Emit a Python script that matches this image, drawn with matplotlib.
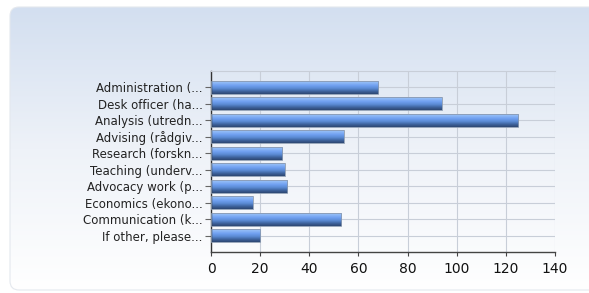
import numpy as np
import matplotlib.pyplot as plt
from matplotlib.patches import FancyBboxPatch
from matplotlib.colors import LinearSegmentedColormap

categories = [
    "Administration (...",
    "Desk officer (ha...",
    "Analysis (utredn...",
    "Advising (rådgiv...",
    "Research (forskn...",
    "Teaching (underv...",
    "Advocacy work (p...",
    "Economics (ekono...",
    "Communication (k...",
    "If other, please...",
]
counts = [68, 94, 125, 54, 29, 30, 31, 17, 53, 20]
x_ticks = [0, 20, 40, 60, 80, 100, 120, 140]

W, H = 589, 293
fig = plt.figure(figsize=(W / 100, H / 100), dpi=100)
fig.patch.set_facecolor('white')

# rounded panel with vertical gradient
bg = fig.add_axes([0, 0, 1, 1])
bg.set_xlim(0, W)
bg.set_ylim(0, H)
bg.set_axis_off()
panel_cmap = LinearSegmentedColormap.from_list('panel', ['#ffffff', '#eef2f8', '#d3dff0'])
grad = np.linspace(0, 1, 256).reshape(-1, 1)
img = bg.imshow(grad, cmap=panel_cmap, origin='lower', aspect='auto',
                extent=(10, W + 20, 3, H - 7))
panel = FancyBboxPatch((10, 3), W + 10, H - 10, boxstyle='round,pad=0,rounding_size=9',
                       facecolor='none', edgecolor='#e4e8ee', linewidth=0.8)
bg.add_patch(panel)
img.set_clip_path(panel)

# plot area
ax = fig.add_axes([211 / W, 1 - 252 / H, (555 - 211) / W, (252 - 71) / H])
ax.set_facecolor('none')
ypos = np.arange(len(categories))
bars = ax.barh(ypos, counts, height=0.8, color='none', edgecolor='#8a9ab0',
               linewidth=0.6, zorder=3)

bar_cmap = LinearSegmentedColormap.from_list(
    'bar', ['#2c4670', '#3f649e', '#5b8bd3', '#6f9ff0', '#8db8f6', '#a4c6f5'])
for b in bars:
    x0, y0 = b.get_x(), b.get_y()
    w, h = b.get_width(), b.get_height()
    im = ax.imshow(grad, cmap=bar_cmap, origin='upper', aspect='auto',
                   extent=(x0, x0 + w, y0, y0 + h), zorder=2)
    im.set_clip_path(b)

ax.set_xlim(0, 140)
ax.set_ylim(len(categories), -1)
ax.set_xticks(x_ticks)
ax.set_yticks(ypos)
ax.set_yticklabels(categories, fontsize=8.5, color='#222222')
ax.tick_params(axis='x', labelsize=10, length=3, color='#444444', labelcolor='#111111', pad=4)
ax.tick_params(axis='y', length=4, color='#666666', pad=2)

ax.grid(True, color='#c8ced8', linewidth=0.8, zorder=0)
ax.set_axisbelow(True)
ax.spines['right'].set_visible(False)
ax.spines['top'].set_color('#c8ced8')
ax.spines['top'].set_linewidth(0.8)
ax.spines['left'].set_color('#333333')
ax.spines['bottom'].set_color('#444444')
ax.spines['left'].set_linewidth(1.0)
ax.spines['bottom'].set_linewidth(1.0)

fig.savefig('out.png', dpi=100)
